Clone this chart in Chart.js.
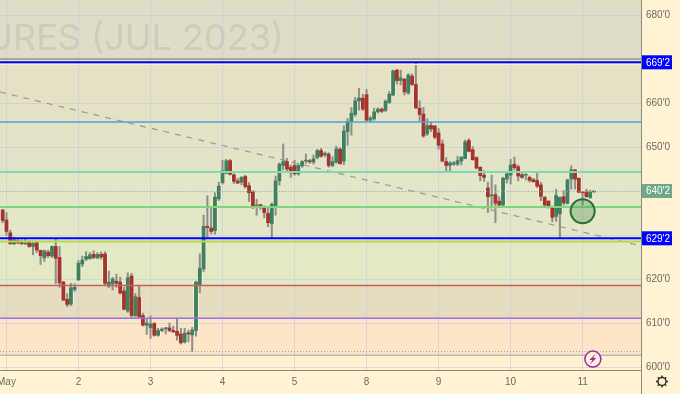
<!DOCTYPE html>
<html>
<head>
<meta charset="utf-8">
<style>
  html, body { margin: 0; padding: 0; background: #fff3d4; overflow: hidden; }
  canvas { display: block; }
</style>
<script src="https://cdn.jsdelivr.net/npm/chart.js@4"></script>
</head>
<body>
<canvas id="priceChart" width="680" height="394"></canvas>
<script>
// Candles, 19 per trading day
const opens = [
  635.7,633.4,630.5,628.0,628.7,628.4,628.0,628.3,627.4,628.3,
  626.5,624.8,626.1,625.2,627.4,624.9,619.3,615.4,614.3,617.6,
  619.8,623.4,624.5,624.6,625.6,624.8,625.6,625.7,618.4,618.9,
  619.5,619.3,617.3,612.7,620.7,611.7,615.8,611.7,609.5,608.9,
  609.9,607.2,608.3,608.7,608.9,608.3,608.1,607.5,605.7,607.8,
  607.3,608.3,618.7,622.3,632.0,631.6,631.0,638.2,641.9,644.0,
  646.9,643.7,642.3,642.0,643.3,641.2,639.8,636.5,636.9,636.1,
  634.9,632.6,636.6,642.3,645.8,646.7,645.4,645.8,643.9,645.7,
  646.8,646.9,646.6,647.6,649.2,648.2,648.4,645.8,646.5,649.5,
  646.8,653.5,655.8,657.4,660.5,661.1,661.9,656.1,656.4,658.0,
  658.6,658.3,660.1,661.8,667.5,665.1,665.4,662.3,666.1,664.2,
  658.8,657.5,653.0,654.9,654.8,653.2,650.7,646.7,645.8,646.1,
  646.1,646.8,647.4,651.5,649.4,647.6,645.4,643.6,640.7,638.9,
  639.2,637.7,636.8,642.7,643.6,646.1,645.5,643.7,643.6,643.1,
  642.6,642.4,641.4,638.6,637.7,636.1,634.2,634.8,638.7,637.2,
  642.7,644.8,642.9,639.8,639.8,638.5,639.8
];
const highs = [
  635.8,635.1,631.1,629.5,629.2,628.9,629.2,628.7,628.6,628.6,
  626.6,626.6,626.6,627.5,629.2,627.4,619.5,616.7,619.0,618.9,
  624.2,625.2,626.2,626.0,626.4,626.0,626.2,626.2,621.8,620.4,
  621.1,620.4,618.1,621.4,621.3,616.7,618.5,612.2,611.1,611.6,
  610.1,608.8,608.9,609.0,610.0,609.3,611.1,608.8,608.8,608.4,
  609.0,619.5,625.7,634.5,638.9,636.1,639.6,642.0,647.0,647.2,
  647.2,643.9,642.9,643.3,643.6,641.9,640.1,638.1,637.0,636.6,
  636.0,637.3,643.4,646.4,650.7,647.4,645.9,647.0,646.3,646.9,
  648.4,647.2,648.2,649.5,649.7,648.9,648.7,647.8,650.2,649.9,
  654.8,656.5,659.0,661.3,663.3,662.0,663.1,656.9,658.8,658.9,
  658.9,660.7,662.6,667.5,667.6,667.5,665.6,666.7,666.6,669.0,
  660.5,659.0,656.4,655.7,654.9,654.2,651.6,647.6,646.7,646.7,
  647.9,647.8,651.6,651.9,650.1,647.8,645.5,644.6,642.0,643.6,
  641.4,638.7,643.1,644.5,647.2,647.7,645.9,644.0,643.9,643.4,
  642.9,644.0,642.0,638.7,637.8,636.6,640.4,638.6,640.1,642.7,
  645.7,644.9,643.0,639.8,640.4,640.2,640.0
];
const lows = [
  632.8,629.9,627.9,627.8,628.0,627.9,627.8,627.2,625.5,626.0,
  623.3,624.0,624.9,624.9,618.9,618.1,615.1,613.7,613.9,617.2,
  619.7,622.8,624.2,624.5,624.6,624.6,624.5,618.6,618.0,617.5,
  618.1,616.6,613.0,612.4,611.1,611.4,611.1,609.3,607.4,606.5,
  607.0,607.0,608.0,607.5,608.0,607.8,606.1,605.2,605.4,605.7,
  603.5,607.0,616.9,621.7,629.5,630.2,630.2,637.8,641.6,643.9,
  643.6,641.7,641.7,641.4,640.6,637.6,636.0,634.5,635.8,633.9,
  631.9,629.2,634.5,641.3,644.8,644.4,643.1,643.6,643.6,645.4,
  646.3,646.3,646.1,647.3,647.7,647.8,645.4,645.5,646.3,646.1,
  646.0,650.4,652.7,657.0,658.4,658.3,655.9,655.8,656.1,657.7,
  657.8,658.0,659.9,661.7,664.3,664.1,661.8,662.0,664.0,658.7,
  655.9,652.2,652.6,653.5,651.9,649.5,646.6,644.6,644.6,645.8,
  645.8,645.9,647.3,648.9,647.0,645.0,642.3,642.2,635.1,636.1,
  632.8,636.7,636.7,641.8,641.6,644.8,642.3,642.9,642.5,642.0,
  642.0,640.8,637.8,636.4,636.1,633.0,633.1,629.5,636.8,637.0,
  640.4,640.4,639.6,636.8,638.6,638.3,639.7
];
const closes = [
  633.3,630.8,628.0,628.9,628.2,628.0,628.3,627.4,628.1,626.6,
  625.3,626.4,625.3,627.4,624.7,619.1,615.2,614.2,618.0,618.1,
  623.6,624.3,625.1,625.5,624.9,625.6,625.0,619.0,619.3,620.0,
  619.0,616.8,613.1,620.3,611.7,616.0,611.4,609.5,610.0,609.8,
  607.2,608.3,608.6,608.9,608.3,608.0,607.2,605.5,607.7,607.5,
  608.4,619.3,622.4,632.0,631.7,630.8,638.6,641.1,644.6,646.9,
  643.8,642.2,641.8,643.1,641.0,639.6,636.4,636.8,636.3,635.1,
  632.8,637.0,642.3,646.1,646.7,645.0,644.3,643.9,645.8,646.7,
  647.0,646.6,647.3,649.2,647.9,648.6,645.8,646.7,649.6,646.2,
  653.6,655.8,657.7,660.5,661.1,658.6,656.1,656.6,658.0,658.6,
  658.1,660.4,662.0,667.3,665.1,665.7,662.5,666.3,664.2,658.9,
  657.4,652.5,654.9,654.1,652.2,650.4,646.8,645.8,646.4,646.4,
  646.9,647.7,651.2,649.0,647.1,645.2,643.5,643.1,638.7,639.1,
  637.2,636.8,642.9,643.9,645.9,645.3,643.4,643.1,643.7,642.4,
  642.1,641.1,638.8,636.8,636.3,634.0,639.0,638.6,637.3,642.5,
  644.8,642.7,639.7,639.6,638.7,639.7,639.9
];

// Time axis
const xMin = -0.71;
const xMax = 168.4;
const dayTicks = [1, 20, 39, 58, 77, 96, 115, 134, 153];
const dayLabels = ["May", "2", "3", "4", "5", "8", "9", "10", "11"];

// Price axis, the tags sit on top of 630, 640 and 670
const yMin = 599.32;
const yMax = 683.41;
const priceTicks = [600, 610, 620, 630, 640, 650, 660, 670, 680];
const hiddenPriceLabels = [630, 640, 670];

// Horizontal levels
const levelValues = [670.0, 669.25, 668.75, 655.68, 644.3, 639.85, 636.36, 629.25, 628.55, 618.5, 611.07, 603.5, 602.7];
const levelColors = ["#a8a89a", "#0000ff", "#f6f1c6", "#4aa3df", "#82d8b2", "#8fb5a0", "#7ed67a", "#0000ff", "#b6d94c", "#cc5f55", "#9b72d6", "#9a9a90", "#bcbcb0"];
const levelWidths = [2, 2, 1, 1.5, 2, 1, 2, 2, 2, 1.5, 1.5, 1, 1.5];
const levelDashes = [[], [], [], [], [], [1, 2], [], [], [], [], [], [1, 2], []];

// Zones behind the chart
const bandEdges = [683.41, 670.0, 655.68, 644.3, 628.55, 618.5, 611.07, 602.7, 599.32];
const bandColors = ["#dfdcc8", "#e5e1c4", "#e3e3c8", "#e3e6c7", "#e3e8c5", "#e6dcc0", "#fde5c7", "#fff0cf"];

// Trend line
const trendX = [xMin, xMax];
const trendY = [662.5, 627.5];

// Marks
const circleMark = { x: 153, y: 635.4, r: 12 };
const boltMark = { x: 155.7, y: 601.8, r: 8 };

// Price tags on the axis
const tagValues = [669.25, 640.0, 629.25];
const tagTexts = ["669'2", "640'2", "629'2"];
const tagColors = ["#0000ff", "#6fa888", "#0000ff"];

const watermark = "FUTURES (JUL 2023)";
const axisFont = "Liberation Sans";
const upColor = "#41805f";
const downColor = "#a5342a";
const wickColor = "#8f8f8a";
const haloColor = "rgba(255,255,245,0.55)";

const wicks = lows.map((low, i) => ({ x: i, y: [low, highs[i]] }));
const bodies = opens.map((open, i) => ({ x: i, y: [open, closes[i]] }));
const bodyColors = opens.map((open, i) => (closes[i] >= open ? upColor : downColor));

const levelSets = levelValues.map((v, i) => ({
  type: "line",
  data: [{ x: xMin, y: v }, { x: xMax, y: v }],
  borderColor: levelColors[i],
  borderWidth: levelWidths[i],
  borderDash: levelDashes[i],
  pointRadius: 0,
  order: 1,
}));

// Zones and watermark go under the grid
const backdrop = {
  id: "backdrop",
  beforeDraw(chart) {
    const { ctx, chartArea, scales } = chart;
    ctx.save();
    ctx.fillStyle = "#fff3d4";
    ctx.fillRect(0, 0, chart.width, chart.height);
    bandColors.forEach((color, i) => {
      const top = scales.y.getPixelForValue(bandEdges[i]);
      const bottom = scales.y.getPixelForValue(bandEdges[i + 1]);
      ctx.fillStyle = color;
      ctx.fillRect(chartArea.left, top, chartArea.right - chartArea.left, bottom - top);
    });
    ctx.font = "36px Inter";
    ctx.fillStyle = "#cfccba";
    ctx.textAlign = "right";
    ctx.textBaseline = "middle";
    ctx.fillText(watermark, 284, 39);
    ctx.restore();
  },
};

// Tags, corner box, gear and bolt
const overlay = {
  id: "overlay",
  afterDraw(chart) {
    const { ctx, chartArea, scales } = chart;
    ctx.save();

    ctx.fillStyle = "#fff3d4";
    ctx.fillRect(chartArea.right + 0.5, chartArea.bottom + 0.5, chart.width, chart.height);
    ctx.strokeStyle = "#8a8a7e";
    ctx.beginPath();
    ctx.moveTo(chartArea.right + 0.5, chartArea.bottom);
    ctx.lineTo(chartArea.right + 0.5, chart.height);
    ctx.stroke();

    tagValues.forEach((v, i) => {
      const y = scales.y.getPixelForValue(v);
      ctx.fillStyle = tagColors[i];
      ctx.fillRect(chartArea.right + 1, y - 7, 30, 14);
      ctx.fillStyle = "#ffffff";
      ctx.font = "10px '" + axisFont + "'";
      ctx.textAlign = "center";
      ctx.textBaseline = "middle";
      ctx.fillText(tagTexts[i], chartArea.right + 17, y + 0.5);
    });

    // gear
    const gx = 662, gy = 381.5;
    ctx.strokeStyle = "#2b2b2b";
    ctx.lineWidth = 1.4;
    ctx.beginPath();
    ctx.arc(gx, gy, 4, 0, Math.PI * 2);
    ctx.stroke();
    for (let a = 0; a < 8; a++) {
      const t = a * Math.PI / 4;
      ctx.beginPath();
      ctx.moveTo(gx + Math.cos(t) * 4, gy + Math.sin(t) * 4);
      ctx.lineTo(gx + Math.cos(t) * 6, gy + Math.sin(t) * 6);
      ctx.stroke();
    }

    // lightning bolt
    const bx = scales.x.getPixelForValue(boltMark.x);
    const by = scales.y.getPixelForValue(boltMark.y);
    ctx.fillStyle = "#9c27b0";
    ctx.beginPath();
    ctx.moveTo(bx + 3, by - 5.5);
    ctx.lineTo(bx - 3.5, by + 1);
    ctx.lineTo(bx - 0.4, by + 1);
    ctx.lineTo(bx - 3, by + 5.5);
    ctx.lineTo(bx + 3.5, by - 1);
    ctx.lineTo(bx + 0.4, by - 1);
    ctx.closePath();
    ctx.fill();
    ctx.restore();
  },
};

new Chart(document.getElementById("priceChart"), {
  type: "bar",
  data: {
    datasets: [
      { data: bodies, backgroundColor: haloColor, barThickness: 5, minBarLength: 2, grouped: false, order: 4 },
      { data: wicks, backgroundColor: wickColor, barThickness: 1.4, grouped: false, order: 3 },
      { data: bodies, backgroundColor: bodyColors, barThickness: 3.2, minBarLength: 1, grouped: false, order: 2 },
      ...levelSets,
      {
        type: "line",
        data: [{ x: trendX[0], y: trendY[0] }, { x: trendX[1], y: trendY[1] }],
        borderColor: "#9a9a90",
        borderWidth: 1.2,
        borderDash: [6, 6],
        pointRadius: 0,
        order: 1,
      },
      {
        type: "bubble",
        data: [circleMark],
        backgroundColor: "rgba(60,140,70,0.3)",
        borderColor: "#2a6e34",
        borderWidth: 2,
        order: 0,
      },
      {
        type: "bubble",
        data: [boltMark],
        backgroundColor: "#fff3d4",
        borderColor: "#9c27b0",
        borderWidth: 1.5,
        order: 0,
      },
    ],
  },
  options: {
    responsive: false,
    animation: false,
    layout: { padding: 0, autoPadding: false },
    plugins: { legend: { display: false }, tooltip: { enabled: false } },
    scales: {
      x: {
        type: "linear",
        min: xMin,
        max: xMax,
        offset: false,
        grid: { color: "rgba(190,200,225,0.55)", offset: false, drawTicks: false },
        border: { color: "#8a8a7e" },
        ticks: {
          color: "#6b6b60",
          font: { family: axisFont, size: 10 },
          padding: 6,
          maxRotation: 0,
          autoSkip: false,
          callback: (value) => dayLabels[dayTicks.indexOf(value)],
        },
        afterBuildTicks(scale) {
          scale.ticks = dayTicks.map((value) => ({ value }));
        },
        afterFit(scale) {
          scale.height = 24;
          scale.paddingLeft = 0;
          scale.paddingRight = 0;
        },
      },
      y: {
        position: "right",
        min: yMin,
        max: yMax,
        grid: { color: "rgba(190,200,225,0.55)", drawTicks: false },
        border: { color: "#8a8a7e" },
        ticks: {
          color: "#6b6b60",
          font: { family: axisFont, size: 10 },
          padding: 5,
          autoSkip: false,
          callback: (value) => (hiddenPriceLabels.includes(value) ? "" : value + "'0"),
        },
        afterBuildTicks(scale) {
          scale.ticks = priceTicks.map((value) => ({ value }));
        },
        afterFit(scale) {
          scale.width = 39;
          scale.paddingTop = 0;
          scale.paddingBottom = 0;
        },
      },
    },
  },
  plugins: [backdrop, overlay],
});
</script>
</body>
</html>
